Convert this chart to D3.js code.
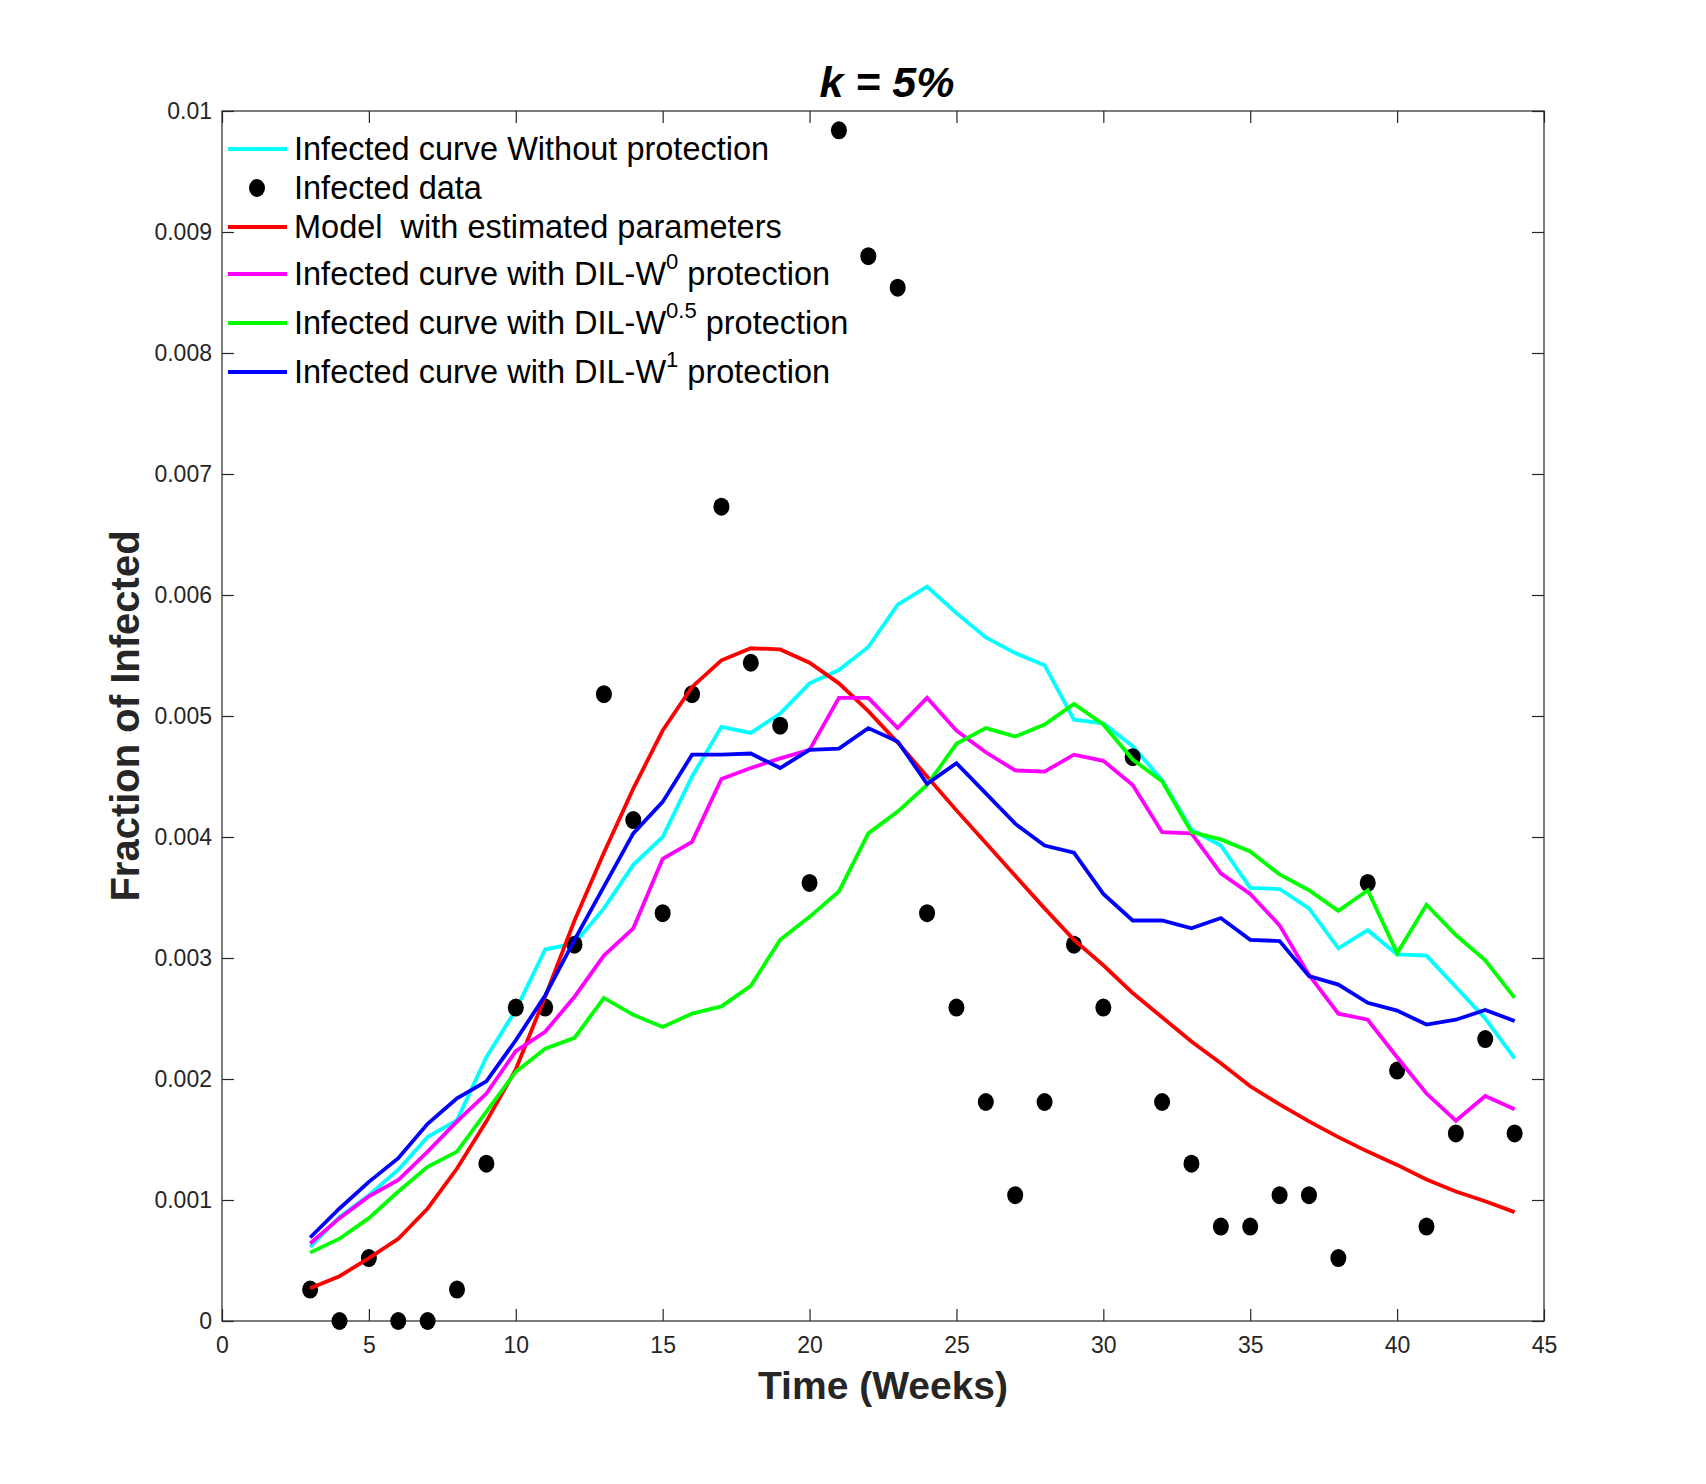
<!DOCTYPE html>
<html><head><meta charset="utf-8">
<script src="https://cdn.jsdelivr.net/npm/d3@7"></script>
<style>
html,body{margin:0;padding:0;background:#fff;}
svg{display:block;font-family:"Liberation Sans",Arial,Helvetica,sans-serif;}
</style></head>
<body>
<svg id="chart" width="1706" height="1484"></svg>
<script>
const weeks = [3,4,5,6,7,8,9,10,11,12,13,14,15,16,17,18,19,20,21,22,23,24,25,26,27,28,29,30,31,32,33,34,35,36,37,38,39,40,41,42,43,44];
const infectedData = [0.00026,0,0.00052,0,0,0.00026,0.0013,0.00259,0.00259,0.00311,0.00518,0.00414,0.00337,0.00518,0.00673,0.00544,0.00492,0.00362,0.00984,0.0088,0.00854,0.00337,0.00259,0.00181,0.00104,0.00181,0.00311,0.00259,0.00466,0.00181,0.0013,0.00078,0.00078,0.00104,0.00104,0.00052,0.00362,0.00207,0.00078,0.00155,0.00233,0.00155];
const noProtection = [0.00061,0.00086,0.00104,0.00125,0.00152,0.00166,0.00218,0.00257,0.00307,0.00312,0.00341,0.00377,0.0040,0.0045,0.00491,0.00486,0.00502,0.00527,0.00538,0.00557,0.00592,0.00607,0.00585,0.00565,0.00552,0.00542,0.00497,0.00494,0.00475,0.00447,0.00406,0.00393,0.00358,0.00357,0.00341,0.00308,0.00323,0.00303,0.00302,0.00276,0.0025,0.00217];
const modelEstimated = [0.00027,0.00037,0.00052,0.00068,0.00093,0.00126,0.00165,0.00208,0.00268,0.00331,0.00387,0.0044,0.00488,0.00524,0.00546,0.00556,0.00555,0.00544,0.00527,0.00504,0.00478,0.0045,0.00422,0.00395,0.00368,0.00341,0.00315,0.00294,0.00271,0.00251,0.00231,0.00213,0.00194,0.00179,0.00165,0.00152,0.0014,0.00129,0.00117,0.00107,0.00099,0.0009];
const dilW0 = [0.00064,0.00085,0.00103,0.001165,0.0014,0.00165,0.00188,0.00223,0.00239,0.00268,0.00302,0.003245,0.00382,0.00396,0.00448,0.00457,0.00465,0.00472,0.00515,0.00515,0.0049,0.00515,0.00488,0.0047,0.00455,0.00454,0.00468,0.00463,0.00443,0.00404,0.00403,0.0037,0.00353,0.00327,0.00286,0.00254,0.00249,0.00218,0.00188,0.001655,0.00186,0.00175];
const dilW05 = [0.000565,0.00068,0.00085,0.00107,0.001275,0.0014,0.00173,0.00206,0.00225,0.00234,0.00267,0.00253,0.00243,0.00254,0.0026,0.00277,0.00315,0.00334,0.00355,0.00403,0.00421,0.00443,0.00477,0.0049,0.00483,0.00493,0.0051,0.00493,0.00464,0.00446,0.00404,0.00398,0.00388,0.00369,0.00356,0.00339,0.00356,0.00304,0.00344,0.00319,0.00298,0.00267];
const dilW1 = [0.00069,0.00093,0.00115,0.001345,0.00163,0.00184,0.00198,0.00232,0.00269,0.00315,0.00359,0.00403,0.00429,0.00468,0.00468,0.00469,0.00457,0.00472,0.00473,0.0049,0.00479,0.00444,0.00461,0.00436,0.00411,0.00393,0.00387,0.00353,0.00331,0.00331,0.003245,0.00333,0.00315,0.00314,0.00285,0.00278,0.00263,0.002565,0.00245,0.00249,0.00257,0.00248];
const xTicks = [0,5,10,15,20,25,30,35,40,45];
const yTicks = [0,0.001,0.002,0.003,0.004,0.005,0.006,0.007,0.008,0.009,0.01];
const yTickLabels = ["0","0.001","0.002","0.003","0.004","0.005","0.006","0.007","0.008","0.009","0.01"];
const titleText = "k = 5%";
const xLabel = "Time (Weeks)";
const yLabel = "Fraction of Infected";

const L = 222, R = 1544, T = 111, B = 1321;
const axisColor = "#262626";
const svg = d3.select("#chart");
const x = d3.scaleLinear().domain([0,45]).range([L,R]);
const y = d3.scaleLinear().domain([0,0.01]).range([B,T]);

// box
svg.append("rect").attr("x",L).attr("y",T).attr("width",R-L).attr("height",B-T)
  .attr("fill","none").attr("stroke",axisColor).attr("stroke-width",1.2);

// axes (ticks inward)
const tk = 12;
const xb = svg.append("g").attr("transform",`translate(0,${B})`)
  .call(d3.axisBottom(x).tickValues(xTicks).tickSizeInner(-tk).tickSizeOuter(0).tickPadding(16).tickFormat(d3.format("d")));
const xt = svg.append("g").attr("transform",`translate(0,${T})`)
  .call(d3.axisTop(x).tickValues(xTicks).tickSizeInner(-tk).tickSizeOuter(0).tickFormat(""));
const yl = svg.append("g").attr("transform",`translate(${L},0)`)
  .call(d3.axisLeft(y).tickValues(yTicks).tickSizeInner(-tk).tickSizeOuter(0).tickPadding(10).tickFormat((d,i)=>yTickLabels[i]));
const yr = svg.append("g").attr("transform",`translate(${R},0)`)
  .call(d3.axisRight(y).tickValues(yTicks).tickSizeInner(-tk).tickSizeOuter(0).tickFormat(""));
[xb,xt,yl,yr].forEach(g=>{
  g.select(".domain").remove();
  g.selectAll(".tick line").attr("stroke",axisColor).attr("stroke-width",1.2);
  g.selectAll(".tick text").attr("fill",axisColor).attr("font-size",23)
    .attr("font-family","'Liberation Sans',Arial,sans-serif");
});
xb.selectAll(".tick text").attr("dy","0.71em");

// labels
svg.append("text").attr("x",(L+R)/2).attr("y",1399).attr("text-anchor","middle")
  .attr("font-size",39).attr("font-weight","bold").attr("fill",axisColor).text(xLabel);
svg.append("text").attr("transform",`translate(139,${(T+B)/2}) rotate(-90)`).attr("text-anchor","middle")
  .attr("font-size",40).attr("font-weight","bold").attr("fill",axisColor).text(yLabel);
svg.append("text").attr("x",(L+R)/2+4).attr("y",97).attr("text-anchor","middle")
  .attr("font-size",43).attr("font-weight","bold").attr("font-style","italic").attr("fill","#000")
  .attr("xml:space","preserve").style("white-space","pre").text(titleText);

// series
const lineGen = vals => d3.line().x((d,i)=>x(weeks[i])).y(d=>y(d))(vals);
const plotG = svg.append("g");
const sw = 3.8;
plotG.append("path").attr("d",lineGen(noProtection)).attr("fill","none").attr("stroke","#00FFFF").attr("stroke-width",sw);
plotG.selectAll("ellipse.dot").data(infectedData).enter().append("ellipse")
  .attr("class","dot").attr("cx",(d,i)=>x(weeks[i])).attr("cy",d=>y(d)).attr("rx",8).attr("ry",9).attr("fill","#000");
plotG.append("path").attr("d",lineGen(modelEstimated)).attr("fill","none").attr("stroke","#FF0000").attr("stroke-width",sw);
plotG.append("path").attr("d",lineGen(dilW0)).attr("fill","none").attr("stroke","#FF00FF").attr("stroke-width",sw);
plotG.append("path").attr("d",lineGen(dilW05)).attr("fill","none").attr("stroke","#00FF00").attr("stroke-width",sw);
plotG.append("path").attr("d",lineGen(dilW1)).attr("fill","none").attr("stroke","#0000FF").attr("stroke-width",sw);

// legend
const legend = [
  {type:"line", color:"#00FFFF", y:149, parts:[["Infected curve Without protection"]]},
  {type:"dot", color:"#000", y:188, parts:[["Infected data"]]},
  {type:"line", color:"#FF0000", y:227, parts:[["Model  with estimated parameters"]]},
  {type:"line", color:"#FF00FF", y:274, parts:[["Infected curve with DIL-W"],["0","sup"],[" protection"]]},
  {type:"line", color:"#00FF00", y:323, parts:[["Infected curve with DIL-W"],["0.5","sup"],[" protection"]]},
  {type:"line", color:"#0000FF", y:372, parts:[["Infected curve with DIL-W"],["1","sup"],[" protection"]]}
];
const lg = svg.append("g");
legend.forEach(item=>{
  if(item.type==="line"){
    lg.append("line").attr("x1",228).attr("x2",287).attr("y1",item.y).attr("y2",item.y)
      .attr("stroke",item.color).attr("stroke-width",sw);
  } else {
    lg.append("ellipse").attr("cx",257).attr("cy",item.y).attr("rx",8).attr("ry",9).attr("fill",item.color);
  }
  const t = lg.append("text").attr("x",294).attr("y",item.y+11).attr("font-size",32.5).attr("fill","#000")
    .attr("xml:space","preserve").style("white-space","pre");
  item.parts.forEach(p=>{
    if(p[1]==="sup"){
      t.append("tspan").attr("font-size",22).attr("dy",-16).text(p[0]);
    } else {
      const ts = t.append("tspan").text(p[0]);
      if(t.selectAll("tspan").size()>1) ts.attr("dy",16);
    }
  });
});
</script>
</body></html>
